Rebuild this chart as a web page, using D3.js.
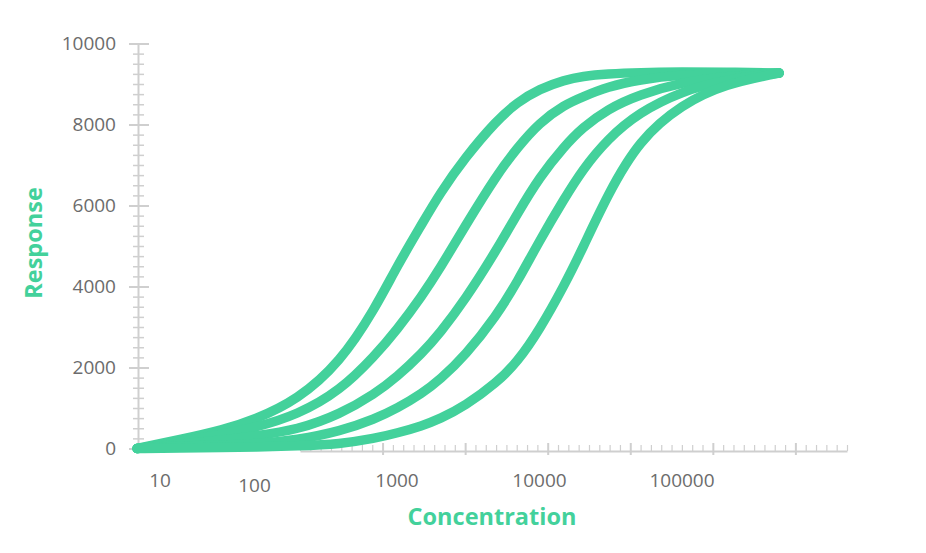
<!DOCTYPE html>
<html>
<head>
  <meta charset="UTF-8">
  <meta name="viewport" content="width=device-width, initial-scale=1.0">
  <style>
    body { margin: 0; background: #fff; }
    svg { display: block; }
  </style>
</head>
<body>
<script type='text/javascript' src='https://d3js.org/d3.v7.min.js'></script>
<script>
  var width = 926, height = 553;

  // concentrations shared by every curve
  var concentrations = [15, 30, 60, 100, 200, 400, 700, 1000, 1500, 2000, 3000, 5000, 7000,
                        10000, 15000, 20000, 30000, 50000, 100000, 200000, 480000];
  // responses, left curve to right curve
  var series1 = [0, 220, 460, 710, 1200, 2130, 3450, 4500, 5550, 6300, 7180, 8100, 8550, 8880, 9100, 9190, 9250, 9285, 9295, 9295, 9270];
  var series2 = [0, 160, 360, 510, 830, 1430, 2290, 2930, 3770, 4440, 5490, 6750, 7430, 8050, 8490, 8680, 8930, 9110, 9230, 9250, 9270];
  var series3 = [0, 110, 210, 310, 460, 850, 1350, 1770, 2350, 2850, 3670, 4900, 5800, 6700, 7470, 7920, 8380, 8740, 9040, 9190, 9270];
  var series4 = [0, 60, 85, 110, 210, 425, 730, 990, 1360, 1700, 2290, 3280, 4120, 5130, 6180, 6880, 7640, 8300, 8820, 9110, 9270];
  var series5 = [0, 12, 25, 37, 62, 110, 250, 380, 560, 730, 1050, 1620, 2140, 2930, 4040, 4930, 6260, 7620, 8500, 9000, 9270];
  var allSeries = [series1, series2, series3, series4, series5];

  var yTicks = [0, 2000, 4000, 6000, 8000, 10000];
  var xLabels = [10, 100, 1000, 10000, 100000];

  var green = '#43d19b', grey = '#cfcfcf', textGrey = '#6c6c6c';

  var svg = d3.select('body').append('svg').attr('width', width).attr('height', height);

  var x = d3.scaleLog().domain([10, 1e6]).range([112, 824.5]);
  var y = d3.scaleLinear().domain([0, 10000]).range([448.5, 43.5]);
  var axisX = 138, axisY = 451;

  // y axis: minor ticks every 250, labelled major ticks every 2000
  var yMinor = svg.append('g').attr('transform', 'translate(' + axisX + ',0)')
    .call(d3.axisLeft(y).tickValues(d3.range(0, 10001, 250)).tickSize(0).tickFormat(''));
  yMinor.select('.domain').remove();
  yMinor.selectAll('.tick line').attr('x1', -5).attr('x2', 6).attr('stroke', grey).attr('stroke-width', 1.5);

  var yAxis = svg.append('g').attr('transform', 'translate(' + axisX + ',0)')
    .call(d3.axisLeft(y).tickValues(yTicks).tickSize(0).tickPadding(22).tickSizeOuter(0).tickFormat(d3.format('d')));
  yAxis.select('.domain').attr('stroke', grey).attr('stroke-width', 2);
  yAxis.selectAll('.tick line').attr('x1', -9).attr('x2', 11).attr('stroke', grey).attr('stroke-width', 2);
  yAxis.selectAll('.tick text')
    .attr('fill', textGrey).style('font-family', "'Open Sans', sans-serif")
    .style('font-size', '19px');

  // x axis ruler: decorative line with even minor and major ticks
  var ruler = d3.scaleLinear().domain([0, 53]).range([300, 847]);
  var xMinor = svg.append('g').attr('transform', 'translate(0,' + axisY + ')')
    .call(d3.axisBottom(ruler).tickValues(d3.range(0, 54)).tickSize(0).tickFormat('').tickSizeOuter(0));
  xMinor.select('.domain').attr('stroke', grey).attr('stroke-width', 2);
  xMinor.selectAll('.tick line').attr('y1', -6).attr('y2', 0).attr('stroke', grey).attr('stroke-width', 1.2);
  xMinor.selectAll('.tick').filter(function(d) { return d % 8 === 0 && d > 0; })
    .select('line').attr('y1', -8).attr('y2', 4).attr('stroke-width', 2);

  // x labels
  svg.append('g').selectAll('text')
    .data(xLabels)
    .join('text')
    .attr('x', function(d) { return Math.max(x(d), 160); })
    .attr('y', function(d) { return d === 100 ? 492 : 487; })
    .attr('text-anchor', 'middle')
    .attr('fill', textGrey)
    .style('font-family', "'Open Sans', sans-serif")
    .style('font-size', '19px')
    .text(function(d) { return d; });

  // curves
  var line = d3.line()
    .x(function(d, i) { return x(concentrations[i]); })
    .y(function(d) { return y(d); })
    .curve(d3.curveBasis);

  svg.append('g').selectAll('path')
    .data(allSeries)
    .join('path')
    .attr('d', line)
    .attr('fill', 'none')
    .attr('stroke', green)
    .attr('stroke-width', 9.5)
    .attr('stroke-linecap', 'round')
    .attr('stroke-linejoin', 'round');

  // axis titles
  svg.append('text')
    .attr('x', 492).attr('y', 525)
    .attr('text-anchor', 'middle')
    .attr('fill', green)
    .style('font-family', "'Open Sans', sans-serif")
    .style('font-weight', 'bold')
    .style('font-size', '23.5px')
    .text('Concentration');

  svg.append('text')
    .attr('transform', 'translate(42,243) rotate(-90)')
    .attr('text-anchor', 'middle')
    .attr('fill', green)
    .style('font-family', "'Open Sans', sans-serif")
    .style('font-weight', 'bold')
    .style('font-size', '23.5px')
    .text('Response');

  console.log('ready..');
</script>
</body>
</html>
